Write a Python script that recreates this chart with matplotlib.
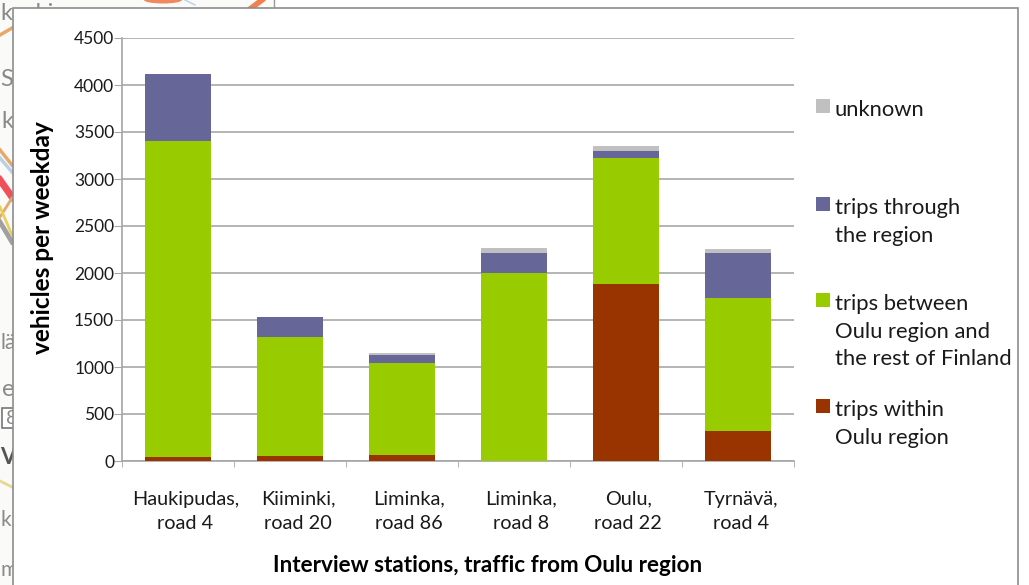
import numpy as np
import matplotlib
matplotlib.use('Agg')
import matplotlib.pyplot as plt
from matplotlib.patches import Rectangle, Ellipse
from matplotlib.transforms import ScaledTranslation

W, H = 1029, 585

stations = ['Haukipudas,\nroad 4', 'Kiiminki,\nroad 20', 'Liminka,\nroad 86',
            'Liminka,\nroad 8', 'Oulu,\nroad 22', 'Tyrnävä,\nroad 4']
within = [40, 50, 60, 0, 1888, 319]
between = [3365, 1265, 986, 2005, 1332, 1420]
through = [715, 215, 85, 203, 75, 479]
unknown = [0, 0, 22, 53, 55, 32]
yticks = [0, 500, 1000, 1500, 2000, 2500, 3000, 3500, 4000, 4500]

series = [(within, '#993300'), (between, '#99CC00'),
          (through, '#666699'), (unknown, '#C0C0C0')]
legend_labels = ['unknown', 'trips through\nthe region',
                 'trips between\nOulu region and\nthe rest of Finland',
                 'trips within\nOulu region']
legend_colors = ['#C0C0C0', '#666699', '#99CC00', '#993300']
legend_tops = [108, 206, 302, 408]
label_shift = [7, 8, 7, 7, 2, 3]

# bits of the map showing behind the panel
map_words = [('koski', 0, 13, 17), ('S', 0, 80, 17), ('k', 1, 122, 17), ('lä', 0, 343, 15),
             ('e', 2, 390, 17), ('k', 1, 520, 15), ('mi', 0, 570, 15)]
map_roads = [((0, 12), (35, 28), '#e8a868', 2.5), ((0, 12), (150, 165), '#e8a868', 2.5),
             ((0, 12), (158, 172), '#b8d0e8', 2.5), ((0, 12), (180, 197), '#f0505a', 5),
             ((0, 12), (217, 198), '#e8a868', 2), ((0, 12), (222, 242), '#a0a0a0', 3.5),
             ((0, 12), (207, 235), '#e8d060', 2), ((0, 12), (481, 487), '#e8d890', 2),
             ((250, 262), (9, 0), '#f08050', 4), ((185, 195), (0, 5), '#b8d0e8', 1)]

plt.rcParams['font.family'] = ['Lato', 'DejaVu Sans']

fig = plt.figure(figsize=(W / 100, H / 100), dpi=100, facecolor='white')

# page panel, in pixel coordinates
bg = fig.add_axes([0, 0, 1, 1])
bg.set_xlim(0, W)
bg.set_ylim(H, 0)
bg.axis('off')
bg.add_patch(Rectangle((0, 0), 274, 9, fc='#fafaf8', ec='none'))
bg.add_patch(Rectangle((0, 0), 12, H, fc='#fafaf8', ec='none'))
bg.plot([274, 274], [0, 8], color='#999999', lw=1)
bg.add_patch(Ellipse((163, 0), 38, 7, fc='#f08860', ec='none'))
for word, px, py, size in map_words:
    bg.text(px, py, word, fontsize=size, color='#8a8a8a', ha='left', va='center')
for xs, ys, color, lw in map_roads:
    bg.plot(xs, ys, color=color, lw=lw)
bg.add_patch(Rectangle((2, 408), 12, 20, fc='white', ec='#777777', lw=1.2))
bg.text(6, 418, '8', fontsize=14, color='#8a8a8a', va='center')
bg.text(0, 458, 'V', fontsize=16, fontweight='bold', color='#555555', va='center')
bg.add_patch(Rectangle((12.5, 8), 1005.5, 600, fc='white', ec='#8c8c8c', lw=1.2, zorder=5))

ax = fig.add_axes([122.3 / W, 1 - 461 / H, 672 / W, 423 / H], zorder=2)
ax.patch.set_alpha(0)
x = np.arange(len(stations))
bottom = np.zeros(len(stations))
for vals, color in series:
    ax.bar(x, vals, width=0.59, bottom=bottom, color=color, zorder=3)
    bottom += np.array(vals)

ax.set_xlim(-0.5, 5.5)
ax.set_ylim(0, 4500)
ax.set_yticks(yticks)
ax.set_xticks(x)
ax.set_xticklabels(stations, fontsize=14.3, linespacing=1.53, color='#1a1a1a')
ax.set_xticks(np.arange(7) - 0.5, minor=True)
ax.tick_params(axis='x', which='major', length=0, pad=21.5)
ax.tick_params(axis='x', which='minor', length=4.3, color='#a6a6a6')
ax.tick_params(axis='y', length=5.8, color='#a6a6a6', labelsize=12.5, labelcolor='#1a1a1a', pad=0)
# tick_params resets label transforms, so shift after it
for lab, dx in zip(ax.get_xticklabels(), label_shift):
    lab.set_transform(lab.get_transform() + ScaledTranslation(dx / 100, 0, fig.dpi_scale_trans))
ax.grid(axis='y', color='#a0a0a0', lw=1.1, zorder=0)
ax.set_axisbelow(True)
for side in ['top', 'right']:
    ax.spines[side].set_visible(False)
for side in ['left', 'bottom']:
    ax.spines[side].set_color('#a6a6a6')
    ax.spines[side].set_linewidth(1.2)

fig.text(43 / W, 1 - 238 / H, 'vehicles per weekday', rotation=90, ha='center', va='center',
         fontsize=17.6, fontweight='bold', color='black')
fig.text(488 / W, 1 - 565 / H, 'Interview stations, traffic from Oulu region', ha='center', va='center',
         fontsize=16.2, fontweight='bold', color='black')

for label, color, top in zip(legend_labels, legend_colors, legend_tops):
    fig.patches.append(Rectangle((816 / W, 1 - (top + 5) / H), 14 / W, 14 / H, fc=color, ec='none',
                                 transform=fig.transFigure, figure=fig))
    fig.text(835 / W, 1 - (top - 8) / H, label, ha='left', va='top', fontsize=15.8,
             linespacing=1.48, color='#1a1a1a')

fig.savefig('out.png', dpi=100)
